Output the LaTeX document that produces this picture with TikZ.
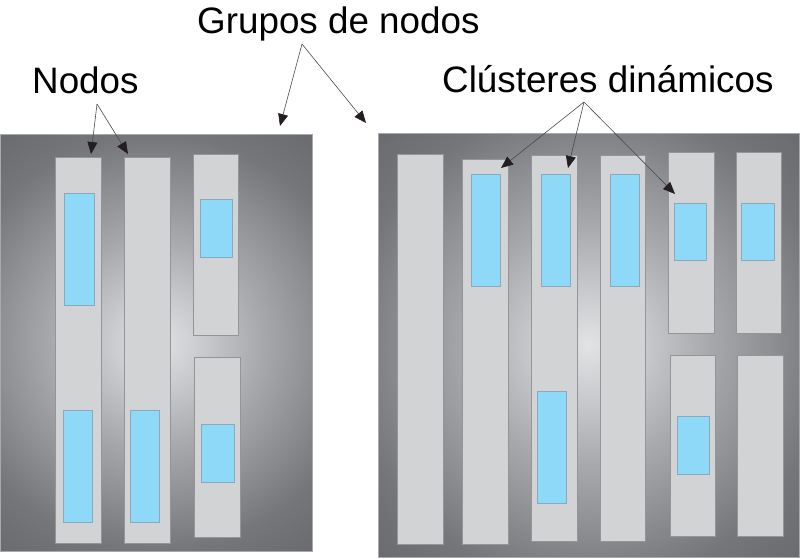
\documentclass[tikz,border=0pt]{standalone}
\usepackage{fontspec}
\setmainfont{Liberation Sans}
\usetikzlibrary{arrows.meta,fit,calc}
\definecolor{sh0}{HTML}{E2E3E5}
\definecolor{sh1}{HTML}{C6C7CA}
\definecolor{sh2}{HTML}{A8A9AC}
\definecolor{sh3}{HTML}{8F9093}
\definecolor{sh4}{HTML}{757679}
\definecolor{sh5}{HTML}{6A6B6E}
\definecolor{nodefill}{HTML}{D1D3D4}
\definecolor{nodedraw}{HTML}{939598}
\definecolor{bluefill}{HTML}{8ED8F8}
\definecolor{bluedraw}{HTML}{8AA9BC}
\definecolor{panelline}{HTML}{A7A9AC}
\definecolor{arrowline}{HTML}{4A4A4C}
\definecolor{arrowtip}{HTML}{231F20}
\pgfdeclareradialshading{panelshade}{\pgfpointorigin}{color(0bp)=(sh0); color(5bp)=(sh1); color(10bp)=(sh2); color(15bp)=(sh3); color(20bp)=(sh4); color(25bp)=(sh5); color(50bp)=(sh5)}
\tikzset{
  nodebox/.style={draw=nodedraw, fill=nodefill, line width=0.8pt, inner sep=0pt, outer sep=0pt},
  bluebox/.style={draw=bluedraw, fill=bluefill, line width=0.8pt, inner sep=0pt, outer sep=0pt},
  panelbox/.style={fill=sh5, inner sep=0pt, outer sep=0pt},
  panelframe/.style={draw=panelline, line width=0.8pt},
  lbl/.style={font=\fontsize{36.8}{40}\selectfont, inner sep=0pt, anchor=base west, text=black},
  callout/.style={draw=arrowline, line width=0.6pt, -{Triangle[length=12pt,width=10pt,color=arrowtip]}},
}
\begin{document}
\begin{tikzpicture}[x=1pt,y=-1pt]
\useasboundingbox (0,0) rectangle (800,558);
% panels
\node[panelbox, fit={(0,134) (312,551)}] (LP) {};
\begin{scope}
  \clip (LP.south west) rectangle (LP.north east);
  \shade[shading=panelshade] (LP.center) circle[radius=260pt];
\end{scope}
\draw[panelframe] (LP.south west) rectangle (LP.north east);
\node[panelbox, fit={(378,133) (799,557)}] (RP) {};
\begin{scope}
  \clip (RP.south west) rectangle (RP.north east);
  \shade[shading=panelshade] (RP.center) circle[radius=299pt];
\end{scope}
\draw[panelframe] (RP.south west) rectangle (RP.north east);
% left nodes
\node[nodebox, fit={(55,157) (101,543)}] (L1) {};
\node[nodebox, fit={(124,157) (170,543)}] (L2) {};
\node[nodebox, fit={(193,154) (238,335)}] (L3) {};
\node[nodebox, fit={(194,357) (240,537)}] (L4) {};
\node[bluebox, fit={(64,193) (94,305)}] (LB1) {};
\node[bluebox, fit={(63,410) (92,522)}] (LB2) {};
\node[bluebox, fit={(130,410) (159,522)}] (LB3) {};
\node[bluebox, fit={(200,199) (232,257)}] (LB4) {};
\node[bluebox, fit={(201,424) (234,482)}] (LB5) {};
% right nodes
\node[nodebox, fit={(397,154) (443,544)}] (R1) {};
\node[nodebox, fit={(462,159) (508,544)}] (R2) {};
\node[nodebox, fit={(531,155) (577,541)}] (R3) {};
\node[nodebox, fit={(600,155) (645,541)}] (R4) {};
\node[nodebox, fit={(668,152) (714,333)}] (R5) {};
\node[nodebox, fit={(736,152) (781,333)}] (R6) {};
\node[nodebox, fit={(670,355) (715,536)}] (R7) {};
\node[nodebox, fit={(737,355) (783,536)}] (R8) {};
\node[bluebox, fit={(471,174) (500,286)}] (RB1) {};
\node[bluebox, fit={(541,174) (570,286)}] (RB2) {};
\node[bluebox, fit={(537,391) (566,503)}] (RB3) {};
\node[bluebox, fit={(610,174) (639,286)}] (RB4) {};
\node[bluebox, fit={(674,203) (706,260)}] (RB5) {};
\node[bluebox, fit={(741,203) (774,260)}] (RB6) {};
\node[bluebox, fit={(677,416) (709,474)}] (RB7) {};
% labels
\node[lbl] (tgrupos) at (197,33) {Grupos de nodos};
\node[lbl] (tnodos) at (32,93) {Nodos};
\node[lbl] (tclust) at (442,92) {Clústeres dinámicos};
% callout origins and targets
\coordinate (gsrc) at (302,44);
\coordinate (nsrc) at (97,104);
\coordinate (csrc) at (584,102);
\coordinate (gtipL) at (280,126);
\coordinate (gtipR) at (366,123);
\coordinate (ntip1) at (91,154);
\coordinate (ntip2) at (128,154);
\coordinate (ctip1) at (501,168);
\coordinate (ctip2) at (568,168);
\coordinate (ctip3) at (675,194);
\draw[callout] (gsrc) -- (gtipL);
\draw[callout] (gsrc) -- (gtipR);
\draw[callout] (nsrc) -- (ntip1);
\draw[callout] (nsrc) -- (ntip2);
\draw[callout] (csrc) -- (ctip1);
\draw[callout] (csrc) -- (ctip2);
\draw[callout] (csrc) -- (ctip3);
\end{tikzpicture}
\end{document}
